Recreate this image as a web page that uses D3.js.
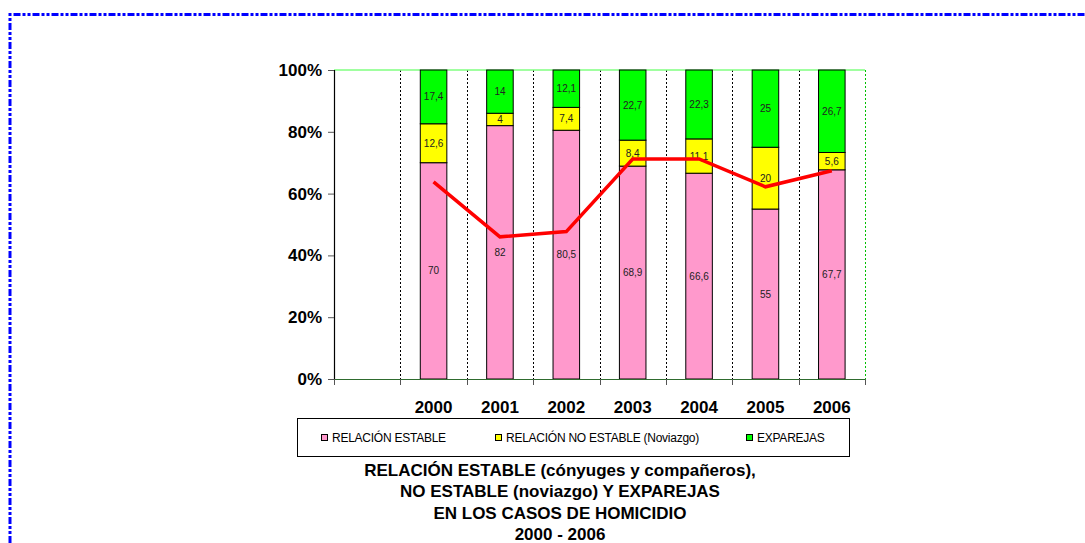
<!DOCTYPE html>
<html>
<head>
<meta charset="utf-8">
<script src="https://cdn.jsdelivr.net/npm/d3@7/dist/d3.min.js"></script>
<style>
  html, body { margin: 0; padding: 0; background: #fff; }
  svg { display: block; font-family: Arial, "Liberation Sans", sans-serif; }
</style>
</head>
<body>
<svg id="chart" width="1085" height="543"></svg>
<script>
// ---- data ----
const categories = ["", "2000", "2001", "2002", "2003", "2004", "2005", "2006"];
const estable   = [null, 70, 82, 80.5, 68.9, 66.6, 55, 67.7];
const noEstable = [null, 12.6, 4, 7.4, 8.4, 11.1, 20, 5.6];
const exparejas = [null, 17.4, 14, 12.1, 22.7, 22.3, 25, 26.7];
const lineValues = [null, 63.8, 46.0, 47.7, 71.2, 71.2, 62.2, 67.4];
const seriesNames = ["RELACIÓN ESTABLE", "RELACIÓN NO ESTABLE (Noviazgo)", "EXPAREJAS"];
const seriesColors = ["#FF99CC", "#FFFF00", "#00FF00"];
const yTicks = [0, 20, 40, 60, 80, 100];
const titleLines = [
  "RELACIÓN ESTABLE (cónyuges y compañeros),",
  "NO ESTABLE (noviazgo) Y EXPAREJAS",
  "EN LOS CASOS DE HOMICIDIO",
  "2000 - 2006"
];

const svg = d3.select("#chart");

// outer dash-dot border
svg.append("path")
  .attr("d", "M10,543 L10,14.5 L1085,14.5")
  .attr("fill", "none")
  .attr("stroke", "#0000FF")
  .attr("stroke-width", 3)
  .attr("stroke-dasharray", "7,2,3,2,3,2");

const x = d3.scaleBand().domain(categories).range([334, 865]).padding(0);
const y = d3.scaleLinear().domain([0, 100]).range([379, 70]);
const bw = x.bandwidth() * 0.4;
const fmt = v => String(v).replace(".", ",");

// dotted vertical gridlines at category boundaries
const boundaries = categories.slice(1).map(c => x(c));
svg.append("g").selectAll("line").data(boundaries).join("line")
  .attr("x1", d => Math.round(d) + 0.5).attr("x2", d => Math.round(d) + 0.5)
  .attr("y1", y(100)).attr("y2", y(0))
  .attr("stroke", "#000").attr("stroke-width", 1)
  .attr("stroke-dasharray", "2,2");

// plot area border top / right (green)
svg.append("line")
  .attr("x1", 334).attr("x2", 865).attr("y1", y(100)).attr("y2", y(100))
  .attr("stroke", "#80FF80").attr("stroke-width", 1.5);
svg.append("line")
  .attr("x1", 865.5).attr("x2", 865.5).attr("y1", y(100)).attr("y2", y(0))
  .attr("stroke", "#00C000").attr("stroke-width", 1).attr("stroke-dasharray", "2,2");

// stacked bars
const stackData = categories.map((c, i) => ({ cat: c, a: estable[i], b: noEstable[i], c: exparejas[i] }))
  .filter(d => d.a !== null);
const stack = d3.stack().keys(["a", "b", "c"]);
const layers = stack(stackData);

const gBars = svg.append("g");
layers.forEach((layer, li) => {
  gBars.append("g").selectAll("rect").data(layer).join("rect")
    .attr("x", d => x(d.data.cat) + x.bandwidth() / 2 - bw / 2)
    .attr("y", d => y(d[1]))
    .attr("width", bw)
    .attr("height", d => y(d[0]) - y(d[1]))
    .attr("fill", seriesColors[li])
    .attr("stroke", "#000")
    .attr("stroke-width", 1);
});
// value labels
layers.forEach((layer, li) => {
  gBars.append("g").selectAll("text").data(layer).join("text")
    .attr("x", d => x(d.data.cat) + x.bandwidth() / 2)
    .attr("y", d => (y(d[0]) + y(d[1])) / 2)
    .attr("dy", "0.35em")
    .attr("text-anchor", "middle")
    .attr("font-size", 10)
    .attr("fill", "#222")
    .text(d => fmt(+(d[1] - d[0]).toFixed(1)));
});

// red line
const lineData = categories.map((c, i) => ({ cat: c, v: lineValues[i] })).filter(d => d.v !== null);
svg.append("path")
  .datum(lineData)
  .attr("fill", "none")
  .attr("stroke", "#FF0000")
  .attr("stroke-width", 3.5)
  .attr("d", d3.line().x(d => x(d.cat) + x.bandwidth() / 2).y(d => y(d.v)));

// y axis
const yAxis = svg.append("g").attr("transform", "translate(334,0)")
  .call(d3.axisLeft(y).tickValues(yTicks).tickFormat(d => d + "%").tickSize(6).tickPadding(6));
yAxis.select(".domain").attr("stroke", "#000").attr("stroke-width", 1.2);
yAxis.selectAll(".tick line").attr("stroke", "#555");
yAxis.selectAll("text").attr("font-size", 17).attr("font-weight", "bold").attr("fill", "#000")
  .attr("font-family", "Arial, 'Liberation Sans', sans-serif");

// x axis
const xAxis = svg.append("g").attr("transform", "translate(0,379)")
  .call(d3.axisBottom(x).tickSize(0).tickPadding(22));
xAxis.select(".domain").attr("stroke", "#2E6B2E").attr("stroke-width", 1.2);
xAxis.selectAll("text").attr("font-size", 17).attr("font-weight", "bold").attr("fill", "#000")
  .attr("font-family", "Arial, 'Liberation Sans', sans-serif");
// boundary tick marks
svg.append("g").selectAll("line").data([334, ...boundaries, 865]).join("line")
  .attr("x1", d => Math.round(d) + 0.5).attr("x2", d => Math.round(d) + 0.5)
  .attr("y1", 379).attr("y2", 385)
  .attr("stroke", "#555");

// legend
const legend = svg.append("g");
legend.append("rect")
  .attr("x", 297.5).attr("y", 418.5).attr("width", 552).attr("height", 38)
  .attr("fill", "#fff").attr("stroke", "#000").attr("stroke-width", 1);
const legendX = [321, 495, 746];
seriesNames.forEach((name, i) => {
  legend.append("rect")
    .attr("x", legendX[i] + 0.5).attr("y", 434.5).attr("width", 6).attr("height", 6)
    .attr("fill", seriesColors[i]).attr("stroke", "#000").attr("stroke-width", 1);
  legend.append("text")
    .attr("x", legendX[i] + 11).attr("y", 437.5).attr("dy", "0.35em")
    .attr("font-size", 12).attr("letter-spacing", -0.25).attr("fill", "#000")
    .text(name);
});

// title
svg.append("g").selectAll("text").data(titleLines).join("text")
  .attr("x", 560).attr("y", (d, i) => 476 + i * 21.3)
  .attr("text-anchor", "middle")
  .attr("font-size", 17).attr("font-weight", "bold").attr("fill", "#000")
  .text(d => d);
</script>
</body>
</html>
